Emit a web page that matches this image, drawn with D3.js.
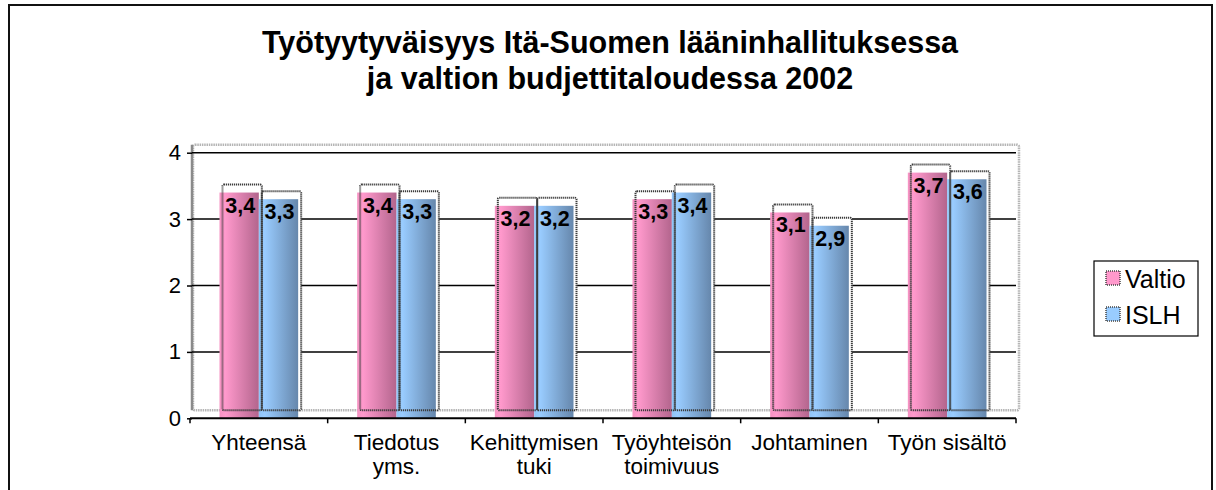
<!DOCTYPE html>
<html>
<head>
<meta charset="utf-8">
<script src="https://cdn.jsdelivr.net/npm/d3@7"></script>
<style>
  html, body { margin: 0; padding: 0; background: #fff; }
  svg { display: block; font-family: Arial, "Liberation Sans", sans-serif; }
</style>
</head>
<body>
<div id="chart"></div>
<script>
// ── Data ─────────────────────────────────────────────────────────
const categories = ['Yhteensä', 'Tiedotus\nyms.', 'Kehittymisen\ntuki', 'Työyhteisön\ntoimivuus', 'Johtaminen', 'Työn sisältö'];
const seriesNames = ['Valtio', 'ISLH'];
const valtio = [3.4, 3.4, 3.2, 3.3, 3.1, 3.7];
const islh = [3.3, 3.3, 3.2, 3.4, 2.9, 3.6];
const yTicks = [0, 1, 2, 3, 4];
const titleLines = ['Työtyytyväisyys Itä-Suomen lääninhallituksessa', 'ja valtion budjettitaloudessa 2002'];

const W = 1216, H = 490;
const plot = { left: 190, right: 1016, top: 152.7, bottom: 418.3 };
const depth = { dx: 3, dy: -8 };   // pseudo-3D offset of walls / bar outlines

const svg = d3.select('#chart').append('svg')
  .attr('width', W)
  .attr('height', H);

// gradients for the cylinder-ish bars
const defs = svg.append('defs');
function gradient(id, stops) {
  const g = defs.append('linearGradient').attr('id', id)
    .attr('x1', '0%').attr('x2', '100%').attr('y1', '0%').attr('y2', '0%');
  stops.forEach(([o, c]) => g.append('stop').attr('offset', o).attr('stop-color', c));
}
gradient('g-valtio', [['0%', '#f592c2'], ['15%', '#ff99cc'], ['100%', '#b3658d']]);
gradient('g-islh', [['0%', '#90c4f6'], ['15%', '#99ccff'], ['100%', '#6687ac']]);
const fills = { Valtio: 'url(#g-valtio)', ISLH: 'url(#g-islh)' };
const swatch = { Valtio: '#ff99cc', ISLH: '#99ccff' };

// outer frame (cropped at the bottom)
svg.append('rect')
  .attr('x', 9).attr('y', 5)
  .attr('width', 1203).attr('height', 600)
  .attr('fill', 'none').attr('stroke', '#111').attr('stroke-width', 2);

// ── Title ────────────────────────────────────────────────────────
svg.append('g').selectAll('text')
  .data(titleLines)
  .enter()
  .append('text')
  .attr('x', 610)
  .attr('y', (d, i) => 53 + i * 36)
  .attr('text-anchor', 'middle')
  .attr('font-size', 30.5)
  .attr('font-weight', 700)
  .text(d => d);

// ── Scales ───────────────────────────────────────────────────────
const x = d3.scaleBand().domain(d3.range(categories.length)).range([plot.left, plot.right]);
const xs = d3.scaleBand().domain(seriesNames).range([0, x.bandwidth()]).paddingOuter(0.75);
const y = d3.scaleLinear().domain([0, 4]).range([plot.bottom, plot.top]);

// back wall
svg.append('rect')
  .attr('x', plot.left + depth.dx)
  .attr('y', y(4) + depth.dy)
  .attr('width', plot.right - plot.left)
  .attr('height', y(0) - y(4))
  .attr('rx', 2)
  .attr('fill', 'none')
  .attr('stroke', '#b5b5b5')
  .attr('stroke-width', 2.5)
  .attr('stroke-dasharray', '1.5,0.8');
svg.append('line')
  .attr('x1', plot.left + 2).attr('x2', plot.left + 2)
  .attr('y1', y(4) + depth.dy).attr('y2', y(0) + depth.dy)
  .attr('stroke', '#8a8a8a').attr('stroke-width', 2.5);

// gridlines
svg.append('g').selectAll('line')
  .data(yTicks.filter(t => t > 0))
  .enter()
  .append('line')
  .attr('x1', plot.left + 2).attr('x2', plot.right)
  .attr('y1', d => y(d)).attr('y2', d => y(d))
  .attr('stroke', '#000').attr('stroke-width', 1.5);

// ── Bars ─────────────────────────────────────────────────────────
const rows = [];
categories.forEach((c, i) => {
  rows.push({ i, s: 'Valtio', v: valtio[i] });
  rows.push({ i, s: 'ISLH', v: islh[i] });
});
const bx = d => x(d.i) + xs(d.s);
const bw = xs.bandwidth();

const bars = svg.append('g');
// white-filled back box (hides the gridlines)
bars.selectAll('.back')
  .data(rows).enter().append('rect')
  .attr('class', 'back')
  .attr('x', d => bx(d) + depth.dx)
  .attr('y', d => y(d.v) + depth.dy)
  .attr('width', bw)
  .attr('height', d => y(0) - y(d.v))
  .attr('fill', '#fff');
// front faces
bars.selectAll('.front')
  .data(rows).enter().append('rect')
  .attr('class', 'front')
  .attr('x', d => bx(d))
  .attr('y', d => y(d.v))
  .attr('width', bw)
  .attr('height', d => y(0) - y(d.v))
  .attr('fill', d => fills[d.s]);
// dotted outlines on top
bars.selectAll('.outline')
  .data(rows).enter().append('rect')
  .attr('class', 'outline')
  .attr('x', d => bx(d) + depth.dx)
  .attr('y', d => y(d.v) + depth.dy)
  .attr('width', bw)
  .attr('height', d => y(0) - y(d.v))
  .attr('rx', 1.5)
  .attr('fill', 'none')
  .attr('stroke', '#3c3c3c')
  .attr('stroke-width', 2)
  .attr('stroke-dasharray', '1.2,0.8');

// value labels
bars.selectAll('.val')
  .data(rows).enter().append('text')
  .attr('class', 'val')
  .attr('x', d => bx(d) + bw / 2 + 1)
  .attr('y', d => y(d.v) + 20)
  .attr('text-anchor', 'middle')
  .attr('font-size', 21.5)
  .attr('font-weight', 700)
  .attr('fill', '#000')
  .text(d => String(d.v).replace('.', ','));

// ── Axes ─────────────────────────────────────────────────────────
const yAxis = svg.append('g')
  .attr('transform', `translate(${plot.left + 2},0)`)
  .call(d3.axisLeft(y).tickValues(yTicks).tickSize(5).tickPadding(6).tickFormat(d3.format('d')));
yAxis.select('.domain').remove();
yAxis.selectAll('line').attr('stroke', '#000').attr('stroke-width', 1.5);
yAxis.selectAll('text').attr('font-size', 22).attr('font-family', 'Arial, "Liberation Sans", sans-serif').attr('fill', '#000');

const xAxis = svg.append('g')
  .attr('transform', `translate(0,${plot.bottom})`);
xAxis.append('line')
  .attr('x1', plot.left).attr('x2', plot.right)
  .attr('stroke', '#000').attr('stroke-width', 2);
xAxis.selectAll('.tick')
  .data(d3.range(categories.length + 1))
  .enter().append('line')
  .attr('x1', d => plot.left + d * x.step()).attr('x2', d => plot.left + d * x.step())
  .attr('y1', 0).attr('y2', 5)
  .attr('stroke', '#000').attr('stroke-width', 1.5);
const catLabels = xAxis.selectAll('.cat')
  .data(categories).enter().append('text')
  .attr('class', 'cat')
  .attr('text-anchor', 'middle')
  .attr('font-size', 22.5)
  .attr('fill', '#000');
catLabels.each(function(d, i) {
  d3.select(this).selectAll('tspan')
    .data(d.split('\n')).enter().append('tspan')
    .attr('x', x(i) + x.bandwidth() / 2)
    .attr('y', (t, j) => 32 + j * 24)
    .text(t => t);
});

// ── Legend ───────────────────────────────────────────────────────
const legend = svg.append('g').attr('transform', 'translate(1094,261)');
legend.append('rect')
  .attr('width', 104).attr('height', 75)
  .attr('fill', '#fff').attr('stroke', '#000').attr('stroke-width', 1.2);
const items = legend.selectAll('.item')
  .data(seriesNames).enter().append('g')
  .attr('transform', (d, i) => `translate(12,${10 + i * 36})`);
items.append('rect')
  .attr('width', 14).attr('height', 14)
  .attr('fill', d => swatch[d])
  .attr('stroke', '#444').attr('stroke-width', 1.5).attr('stroke-dasharray', '1,1');
items.append('text')
  .attr('x', 19).attr('y', 17)
  .attr('font-size', 25)
  .attr('fill', '#000')
  .text(d => d);
</script>
</body>
</html>
